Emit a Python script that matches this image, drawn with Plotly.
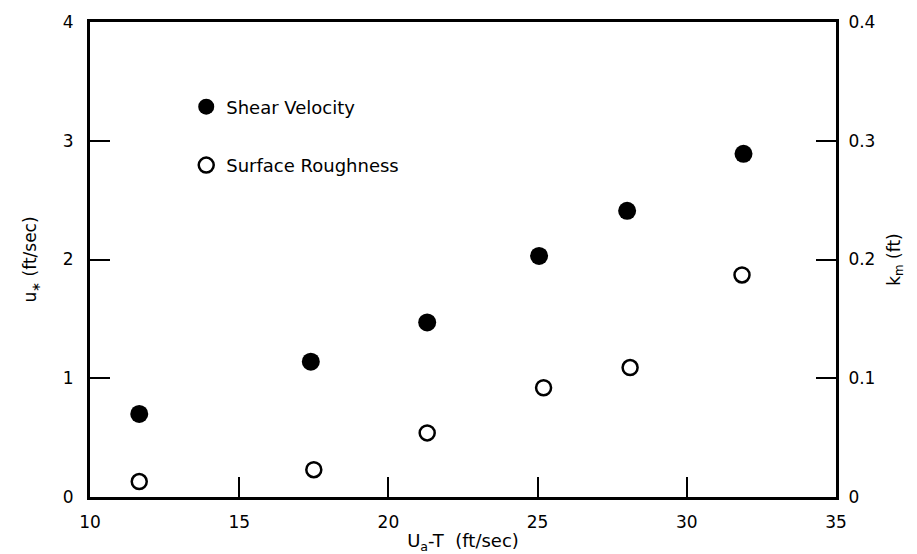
import plotly.graph_objects as go

# Wind speed measure U_a - T (ft/sec)
speed_shear = [11.65, 17.4, 21.3, 25.05, 28.0, 31.9]
shear_velocity = [0.70, 1.14, 1.47, 2.03, 2.41, 2.89]   # u* (ft/sec)

speed_rough = [11.65, 17.5, 21.3, 25.2, 28.1, 31.85]
roughness = [0.013, 0.023, 0.054, 0.092, 0.109, 0.187]  # k_m (ft)

x_ticks = [10, 15, 20, 25, 30, 35]
y_ticks = [0, 1, 2, 3, 4]
y2_ticks = [0, 0.1, 0.2, 0.3, 0.4]
y2_tick_labels = ["0", "0.1", "0.2", "0.3", "0.4"]

FONT = "DejaVu Sans, Liberation Sans, Arial, sans-serif"

fig = go.Figure()
fig.add_trace(go.Scatter(
    x=speed_shear, y=shear_velocity, mode="markers", name="Shear Velocity",
    legendgroup="a",
    marker=dict(symbol="circle", size=18, color="black"),
))
fig.add_trace(go.Scatter(
    x=speed_rough, y=roughness, mode="markers", name="Surface Roughness",
    legendgroup="b", yaxis="y2",
    marker=dict(symbol="circle-open", size=15, color="black", line=dict(width=2.5, color="black")),
))

axis_common = dict(
    showgrid=False, zeroline=False, showline=True, linecolor="black", linewidth=3,
    ticks="inside", ticklen=20, tickwidth=1.5, tickcolor="black",
    tickfont=dict(family=FONT, size=17, color="black"),
    automargin=False,
)

fig.update_layout(
    width=917, height=554,
    margin=dict(l=90, r=81, t=22, b=57),
    plot_bgcolor="white", paper_bgcolor="white",
    font=dict(family=FONT, size=17, color="black"),
    showlegend=True,
    legend=dict(
        x=0.129, y=0.86, xanchor="left", yanchor="top",
        bgcolor="rgba(0,0,0,0)", borderwidth=0,
        font=dict(family=FONT, size=18, color="black"),
        traceorder="grouped", tracegroupgap=32,
    ),
    xaxis=dict(
        range=[10, 35], tickvals=x_ticks, mirror=True,
        title=dict(text="U<sub>a</sub>-T  (ft/sec)", standoff=6,
                   font=dict(family=FONT, size=18)),
        ticklabelstandoff=8,
        **axis_common,
    ),
    yaxis=dict(
        range=[0, 4], tickvals=y_ticks,
        title=dict(text="u<sub>∗</sub> (ft/sec)", standoff=22,
                   font=dict(family=FONT, size=17)),
        ticklabelstandoff=10,
        **axis_common,
    ),
    yaxis2=dict(
        range=[0, 0.4], tickvals=y2_ticks, ticktext=y2_tick_labels,
        overlaying="y", side="right",
        title=dict(text="k<sub>m</sub> (ft)", standoff=14,
                   font=dict(family=FONT, size=17)),
        ticklabelstandoff=6,
        **axis_common,
    ),
)

fig.write_html("out.html")
